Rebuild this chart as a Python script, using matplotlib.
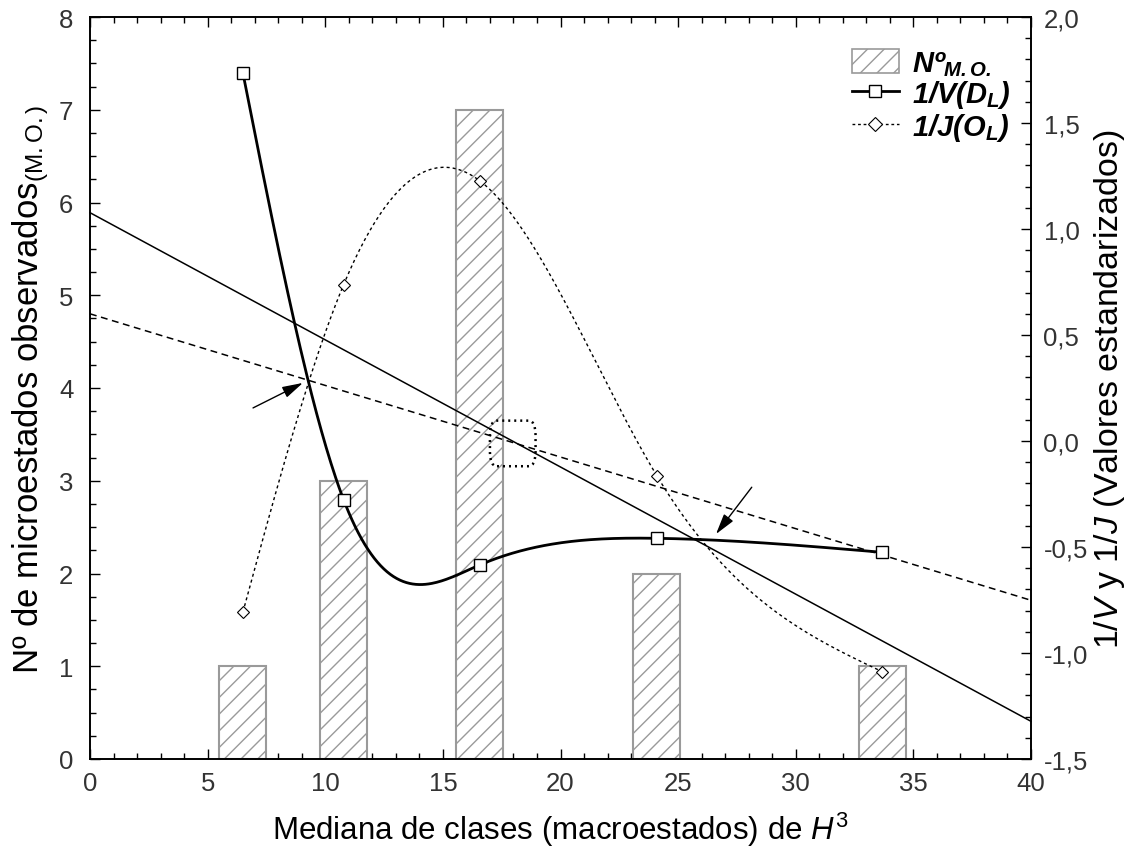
import numpy as np
import matplotlib
matplotlib.use("Agg")
import matplotlib.pyplot as plt
from matplotlib.patches import Patch, FancyBboxPatch
from matplotlib.lines import Line2D
from matplotlib.ticker import MultipleLocator

plt.rcParams['font.family'] = ['Liberation Sans', 'DejaVu Sans']
plt.rcParams['mathtext.fontset'] = 'custom'
plt.rcParams['mathtext.rm'] = 'Liberation Sans'
plt.rcParams['mathtext.it'] = 'Liberation Sans:italic'
plt.rcParams['mathtext.bf'] = 'Liberation Sans:italic:bold'

# ---- data ----
x_classes = [6.5, 10.78, 16.56, 24.1, 33.67]
n_mo = [1, 3, 7, 2, 1]
inv_V = [1.736, -0.277, -0.585, -0.459, -0.525]
inv_J = [-0.807, 0.737, 1.228, -0.165, -1.088]
left_ticks = [0, 1, 2, 3, 4, 5, 6, 7, 8]
right_ticks = [-1.5, -1.0, -0.5, 0.0, 0.5, 1.0, 1.5, 2.0]
right_labels = ['-1,5', '-1,0', '-0,5', '0,0', '0,5', '1,0', '1,5', '2,0']
x_ticks = [0, 5, 10, 15, 20, 25, 30, 35, 40]


def natural_spline(x, y, xs):
    x = np.asarray(x, float); y = np.asarray(y, float)
    n = len(x)
    h = np.diff(x)
    A = np.zeros((n, n)); b = np.zeros(n)
    A[0, 0] = 1; A[-1, -1] = 1
    for i in range(1, n - 1):
        A[i, i - 1] = h[i - 1]; A[i, i] = 2 * (h[i - 1] + h[i]); A[i, i + 1] = h[i]
        b[i] = 3 * ((y[i + 1] - y[i]) / h[i] - (y[i] - y[i - 1]) / h[i - 1])
    c = np.linalg.solve(A, b)
    bc = (y[1:] - y[:-1]) / h - h * (2 * c[:-1] + c[1:]) / 3
    d = (c[1:] - c[:-1]) / (3 * h)
    idx = np.clip(np.searchsorted(x, xs) - 1, 0, n - 2)
    dx = xs - x[idx]
    return y[idx] + bc[idx] * dx + c[idx] * dx ** 2 + d[idx] * dx ** 3


fig = plt.figure(figsize=(11.36, 8.53), dpi=100)
ax = fig.add_axes([90 / 1136, 1 - 760 / 853, (1031 - 90) / 1136, (760 - 18) / 853])
ax2 = ax.twinx()

gray = '#9a9a9a'
plt.rcParams['hatch.color'] = gray
plt.rcParams['hatch.linewidth'] = 1.0
ax.bar(x_classes, n_mo, width=2.0, facecolor='white', edgecolor=gray,
       hatch='//', linewidth=1.5, zorder=2)

ax.set_xlim(0, 40)
ax.set_ylim(0, 8)
ax2.set_ylim(-1.5, 2.0)

xs = np.linspace(x_classes[0], x_classes[-1], 400)
ax2.plot(xs, natural_spline(x_classes, inv_V, xs), color='black', lw=2.0, zorder=3)
ax2.plot(xs, natural_spline(x_classes, inv_J, xs), color='black', lw=1.0,
         ls=(0, (2.2, 2.2)), zorder=3)

# regression lines
xl = np.array([0, 40])
pV = np.polyfit(x_classes, inv_V, 1)
pJ = np.polyfit(x_classes, inv_J, 1)
ax2.plot(xl, np.polyval(pV, xl), color='black', lw=1.1, zorder=3, clip_on=False)
ax2.plot(xl, np.polyval(pJ, xl), color='black', lw=1.1, ls=(0, (4.5, 3)), zorder=3,
         clip_on=False)

ax2.plot(x_classes, inv_V, ls='none', marker='s', ms=8.5, mfc='white', mec='black',
         mew=1.0, zorder=5)
ax2.plot(x_classes, inv_J, ls='none', marker='D', ms=6.5, mfc='white', mec='black',
         mew=0.8, zorder=5)

# arrows
arrow_kw = dict(arrowstyle='-|>,head_length=0.9,head_width=0.25', color='black',
                lw=1.0, mutation_scale=14, shrinkA=0, shrinkB=0)
ax2.annotate('', xy=(9.05, 0.274), xytext=(6.93, 0.156), arrowprops=arrow_kw, zorder=6)
ax2.annotate('', xy=(26.61, -0.439), xytext=(28.13, -0.218), arrowprops=arrow_kw, zorder=6)

# dotted box
box = FancyBboxPatch((17.0, -0.119), 1.94, 0.215,
                     boxstyle='round,pad=0,rounding_size=0.3', fill=False,
                     ec='black', lw=1.8, ls=(0, (0.8, 1.6)), zorder=6,
                     mutation_aspect=0.215 / 1.94 * 2.1)
ax2.add_patch(box)

# ticks
tick_color = '#333333'
ax.set_xticks(x_ticks)
ax.xaxis.set_minor_locator(MultipleLocator(1))
ax.set_yticks(left_ticks)
ax.yaxis.set_minor_locator(MultipleLocator(0.25))
ax2.set_yticks(right_ticks)
ax2.set_yticklabels(right_labels)
ax2.yaxis.set_minor_locator(MultipleLocator(0.1))

ax.tick_params(axis='x', which='both', direction='in', top=True, bottom=True,
               labelsize=18.5, labelcolor=tick_color, pad=9)
ax.tick_params(axis='y', which='both', direction='in', left=True, right=False,
               labelsize=18.5, labelcolor=tick_color, pad=12)
ax2.tick_params(axis='y', which='both', direction='in', right=True, left=False,
                labelsize=18.5, labelcolor=tick_color, pad=9)
for a in (ax, ax2):
    a.tick_params(which='major', length=7, width=1)
    a.tick_params(which='minor', length=4, width=1)
    for s in a.spines.values():
        s.set_linewidth(1.2)

ax.set_xlabel(r'Mediana de clases (macroestados) de $H^3$', fontsize=22.5, labelpad=10)
ax.set_ylabel(r'Nº de microestados observados$_{\rm (M.O.)}$', fontsize=25, labelpad=6)
ax2.set_ylabel(r'$\mathit{1/V}$ y $\mathit{1/J}$ (Valores estandarizados)', fontsize=24.5,
               labelpad=3)

handles = [
    Patch(facecolor='white', edgecolor=gray, hatch='//', linewidth=1.2),
    Line2D([], [], color='black', lw=2.0, marker='s', ms=9, mfc='white', mec='black'),
    Line2D([], [], color='black', lw=1.0, ls=(0, (2, 2)), marker='D', ms=7,
           mfc='white', mec='black', mew=0.8),
]
labels = [r'Nº$_{\mathbf{M.O.}}$', r'1/V(D$_{\mathbf{L}}$)', r'1/J(O$_{\mathbf{L}}$)']
leg = ax2.legend(handles, labels, loc='upper right', bbox_to_anchor=(1.0, 0.985),
                 frameon=False, handlelength=1.6, handleheight=0.9, labelspacing=0.02,
                 handletextpad=0.45, borderaxespad=0.3,
                 prop={'family': 'Liberation Sans', 'weight': 'bold', 'style': 'italic',
                       'size': 21})

fig.savefig('out.png', dpi=100)
